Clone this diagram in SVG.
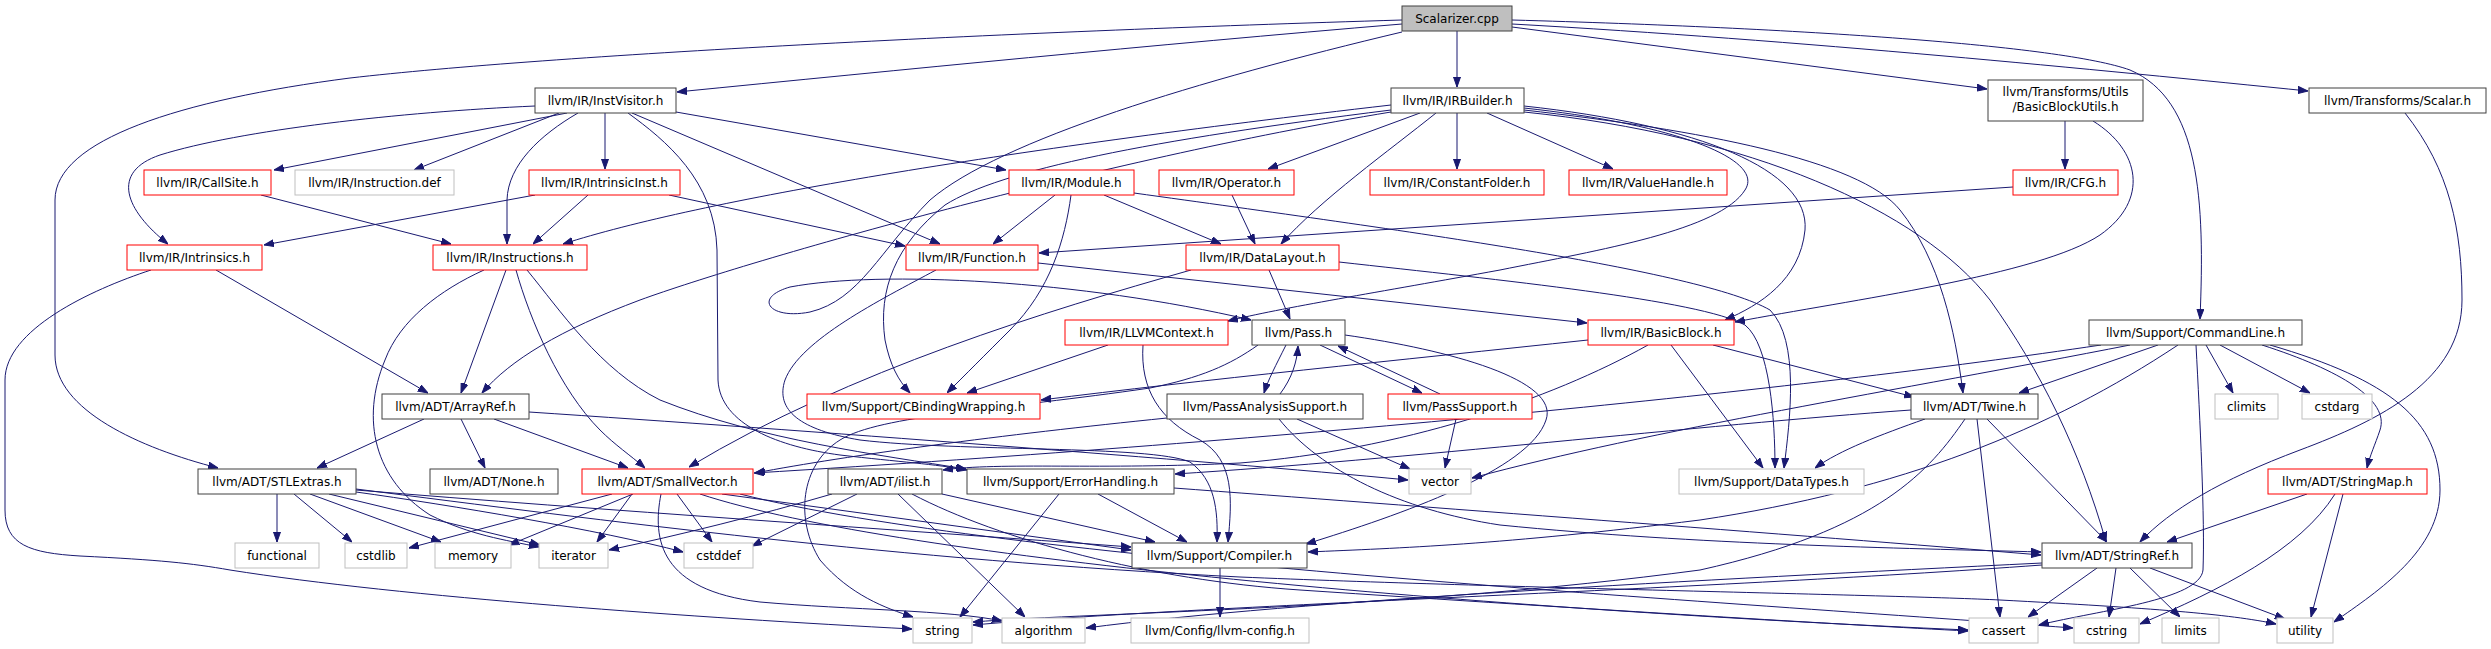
<svg xmlns="http://www.w3.org/2000/svg" width="2491" height="649" viewBox="0 0 2491 649">
<defs>
<style>
.e{fill:none;stroke:#191970;stroke-width:1;marker-end:url(#a)}
rect{fill:#fff;stroke:#404040;stroke-width:1}
.r rect{stroke:#ff0000}
.g rect{stroke:#bfbfbf}
.root rect{fill:#bfbfbf}
text{font-family:"DejaVu Sans","Liberation Sans",sans-serif;font-size:12px;text-anchor:middle;fill:#000}
</style>
<marker id="a" markerUnits="userSpaceOnUse" markerWidth="10" markerHeight="8" refX="10" refY="4" orient="auto"><path d="M0,0.5 L10,4 L0,7.5 z" fill="#191970" stroke="#191970"/></marker>
</defs>
<rect x="0" y="0" width="2491" height="649" style="fill:#fff;stroke:none"/>
<g id="edges">
<path class="e" d="M1402,24 C1150,45 900,70 677,92"/>
<path class="e" d="M1457,31 L1457,87"/>
<path class="e" d="M1402,20 C1000,32 550,55 350,78 C180,100 55,140 55,200 L55,355 C55,410 140,448 218,468"/>
<path class="e" d="M1402,32 C1200,80 1000,140 930,200 C880,250 860,300 810,312 C770,320 752,298 790,287 C880,270 1080,280 1251,320"/>
<path class="e" d="M1512,27 L1987,89"/>
<path class="e" d="M1512,24 C1800,40 2100,70 2308,91"/>
<path class="e" d="M1512,20 C1800,28 2060,45 2130,70 C2200,100 2205,200 2200,319"/>
<path class="e" d="M567,113 L274,170"/>
<path class="e" d="M559,113 L414,170"/>
<path class="e" d="M605,113 L605,169"/>
<path class="e" d="M535,106 C400,112 240,130 160,155 C110,172 125,210 168,244"/>
<path class="e" d="M578,113 C540,135 508,165 507,200 L507,244"/>
<path class="e" d="M676,112 L1006,170"/>
<path class="e" d="M632,113 L940,244"/>
<path class="e" d="M628,113 C665,140 715,180 717,250 L718,380 C720,425 780,447 840,455 C900,462 935,464 967,470"/>
<path class="e" d="M535,195 L264,245"/>
<path class="e" d="M588,195 L533,244"/>
<path class="e" d="M669,195 L905,246"/>
<path class="e" d="M261,195 L451,244"/>
<path class="e" d="M1391,105 C1000,150 700,200 563,244"/>
<path class="e" d="M216,270 L428,393"/>
<path class="e" d="M151,270 C90,290 5,330 5,380 L5,510 C5,545 30,553 80,556 C160,560 190,563 230,570 C400,597 700,618 912,629"/>
<path class="e" d="M484,270 C440,290 400,320 385,360 C360,420 375,480 430,515 C470,535 505,540 539,547"/>
<path class="e" d="M506,270 L461,393"/>
<path class="e" d="M516,270 C530,320 560,390 600,430 C615,445 630,455 645,468"/>
<path class="e" d="M527,270 C560,310 600,370 660,400 C760,440 880,455 966,469"/>
<path class="e" d="M1391,112 C1100,160 750,260 640,300 C560,330 510,360 482,393"/>
<path class="e" d="M1391,110 C1150,140 1000,170 945,205 C895,245 878,290 885,340 C890,365 898,380 910,393"/>
<path class="e" d="M1420,113 L1268,169"/>
<path class="e" d="M1436,113 C1390,150 1320,200 1281,244"/>
<path class="e" d="M1457,113 L1457,169"/>
<path class="e" d="M1487,113 L1613,169"/>
<path class="e" d="M1524,106 C1700,125 1810,170 1805,230 C1800,280 1760,305 1725,320"/>
<path class="e" d="M1524,108 C1680,125 1765,160 1745,190 C1720,230 1600,250 1500,270 C1380,292 1280,308 1228,321"/>
<path class="e" d="M1524,110 C1700,130 1860,160 1900,210 C1940,260 1955,330 1963,393"/>
<path class="e" d="M1524,112 C1750,135 1920,210 1990,300 C2040,370 2080,450 2106,542"/>
<path class="e" d="M1055,195 L993,244"/>
<path class="e" d="M1104,195 L1221,244"/>
<path class="e" d="M1071,195 C1065,240 1050,290 1010,330 C985,355 965,375 947,393"/>
<path class="e" d="M1134,193 C1400,230 1700,270 1770,310 C1800,340 1790,420 1784,468"/>
<path class="e" d="M1232,195 L1255,244"/>
<path class="e" d="M2013,187 L1039,253"/>
<path class="e" d="M2065,121 L2065,169"/>
<path class="e" d="M2093,121 C2140,150 2150,200 2100,235 C2040,275 1850,300 1735,322"/>
<path class="e" d="M2405,113 C2450,170 2462,230 2462,300 C2462,380 2380,420 2300,450 C2220,480 2170,510 2140,542"/>
<path class="e" d="M1038,263 L1587,323"/>
<path class="e" d="M936,270 C880,300 800,340 785,380 C775,410 800,430 860,440 C960,452 1150,445 1190,462 C1215,480 1218,510 1217,542"/>
<path class="e" d="M1191,270 C1050,310 850,370 689,467"/>
<path class="e" d="M1269,270 L1290,319"/>
<path class="e" d="M1339,262 C1500,280 1700,300 1745,325 C1770,345 1775,420 1775,468"/>
<path class="e" d="M1108,345 L967,393"/>
<path class="e" d="M1143,345 C1140,390 1160,420 1200,440 C1235,460 1232,500 1228,542"/>
<path class="e" d="M1286,345 C1276,365 1268,380 1264,393"/>
<path class="e" d="M1280,394 C1292,378 1297,362 1298,346"/>
<path class="e" d="M1320,345 L1422,393"/>
<path class="e" d="M1440,394 L1338,346"/>
<path class="e" d="M1345,335 C1450,350 1560,380 1546,420 C1530,470 1400,515 1306,544"/>
<path class="e" d="M1258,345 C1230,365 1200,378 1150,388 C1000,410 880,415 840,440 C800,465 795,520 820,560 C850,595 885,608 913,617"/>
<path class="e" d="M1167,418 C1000,435 850,455 755,473"/>
<path class="e" d="M1279,419 C1320,470 1400,510 1500,525 C1700,545 1900,548 2041,552"/>
<path class="e" d="M1297,419 L1410,469"/>
<path class="e" d="M1456,419 L1445,468"/>
<path class="e" d="M424,419 L317,468"/>
<path class="e" d="M461,419 L485,468"/>
<path class="e" d="M494,419 L628,468"/>
<path class="e" d="M529,412 C800,430 1200,460 1408,480"/>
<path class="e" d="M277,494 L277,542"/>
<path class="e" d="M294,494 L352,542"/>
<path class="e" d="M310,494 L441,542"/>
<path class="e" d="M329,494 L540,545"/>
<path class="e" d="M356,492 C450,505 600,530 683,552"/>
<path class="e" d="M356,490 C600,510 900,530 1131,547"/>
<path class="e" d="M356,489 C600,520 900,560 1240,577 C1500,588 1900,595 2000,600 C2150,608 2230,614 2276,624"/>
<path class="e" d="M612,494 L409,548"/>
<path class="e" d="M633,494 L509,545"/>
<path class="e" d="M632,494 L597,542"/>
<path class="e" d="M677,494 L712,542"/>
<path class="e" d="M722,494 L1131,550"/>
<path class="e" d="M661,494 C652,540 660,590 760,602 C850,610 950,610 1002,621"/>
<path class="e" d="M700,494 C900,560 1500,610 1968,630"/>
<path class="e" d="M740,494 C1000,560 1700,600 2073,628"/>
<path class="e" d="M857,494 L752,546"/>
<path class="e" d="M832,494 C760,515 680,535 609,550"/>
<path class="e" d="M898,494 L1025,617"/>
<path class="e" d="M942,494 L1155,542"/>
<path class="e" d="M912,494 C1000,540 1150,580 1300,590 C1600,610 1850,625 1968,631"/>
<path class="e" d="M1059,494 L960,617"/>
<path class="e" d="M1098,494 L1187,542"/>
<path class="e" d="M1174,488 C1400,505 1800,535 2041,555"/>
<path class="e" d="M1987,419 L2107,542"/>
<path class="e" d="M1925,419 C1880,435 1840,450 1815,468"/>
<path class="e" d="M1911,410 C1700,425 1400,460 1175,474"/>
<path class="e" d="M1977,419 L2000,617"/>
<path class="e" d="M1965,419 C1930,470 1880,530 1700,570 C1400,610 1100,612 973,622"/>
<path class="e" d="M2206,345 L2233,393"/>
<path class="e" d="M2220,345 L2310,393"/>
<path class="e" d="M2158,345 L2019,393"/>
<path class="e" d="M2262,345 C2340,370 2390,400 2380,430 C2375,445 2370,455 2367,468"/>
<path class="e" d="M2270,345 C2390,380 2440,420 2440,490 C2440,550 2380,590 2334,622"/>
<path class="e" d="M2196,345 C2200,420 2205,520 2203,570 C2200,600 2100,610 2039,625"/>
<path class="e" d="M2101,345 C1800,390 1300,440 754,473"/>
<path class="e" d="M2130,345 C1900,390 1650,430 1472,478"/>
<path class="e" d="M2178,345 C2050,430 1900,490 1700,520 C1500,545 1400,548 1308,552"/>
<path class="e" d="M2307,494 L2167,542"/>
<path class="e" d="M2335,494 C2300,550 2220,590 2140,624"/>
<path class="e" d="M2343,494 L2311,617"/>
<path class="e" d="M2097,568 L2028,617"/>
<path class="e" d="M2116,568 L2109,617"/>
<path class="e" d="M2130,568 L2180,617"/>
<path class="e" d="M2150,568 L2285,619"/>
<path class="e" d="M2042,563 C1700,580 1300,600 1086,628"/>
<path class="e" d="M2042,565 C1700,590 1200,605 973,625"/>
<path class="e" d="M1220,568 L1220,617"/>
<path class="e" d="M1588,340 C1400,360 1200,380 1041,400"/>
<path class="e" d="M1671,345 L1763,468"/>
<path class="e" d="M1713,345 L1914,397"/>
<path class="e" d="M1648,345 C1550,400 1400,450 1240,463 C1100,470 1000,462 943,470"/>
</g>
<g id="n_scalarizer" class="root"><rect x="1402" y="6" width="110" height="25"/><text x="1457" y="23">Scalarizer.cpp</text></g>
<g id="n_instvisitor"><rect x="535" y="88" width="141" height="25"/><text x="605.5" y="105">llvm/IR/InstVisitor.h</text></g>
<g id="n_irbuilder"><rect x="1391" y="88" width="133" height="25"/><text x="1457.5" y="105">llvm/IR/IRBuilder.h</text></g>
<g id="n_bbutils"><rect x="1988" y="80" width="155" height="41"/><text x="2065.5" y="96">llvm/Transforms/Utils</text><text x="2065.5" y="111">/BasicBlockUtils.h</text></g>
<g id="n_scalar"><rect x="2309" y="88" width="177" height="25"/><text x="2397.5" y="105">llvm/Transforms/Scalar.h</text></g>
<g id="n_callsite" class="r"><rect x="144" y="170" width="127" height="25"/><text x="207.5" y="187">llvm/IR/CallSite.h</text></g>
<g id="n_instdef" class="g"><rect x="295" y="170" width="159" height="25"/><text x="374.5" y="187">llvm/IR/Instruction.def</text></g>
<g id="n_intrinsicinst" class="r"><rect x="529" y="170" width="151" height="25"/><text x="604.5" y="187">llvm/IR/IntrinsicInst.h</text></g>
<g id="n_module" class="r"><rect x="1009" y="170" width="125" height="25"/><text x="1071.5" y="187">llvm/IR/Module.h</text></g>
<g id="n_operator" class="r"><rect x="1159" y="170" width="135" height="25"/><text x="1226.5" y="187">llvm/IR/Operator.h</text></g>
<g id="n_constfolder" class="r"><rect x="1370" y="170" width="174" height="25"/><text x="1457" y="187">llvm/IR/ConstantFolder.h</text></g>
<g id="n_valuehandle" class="r"><rect x="1569" y="170" width="158" height="25"/><text x="1648" y="187">llvm/IR/ValueHandle.h</text></g>
<g id="n_cfg" class="r"><rect x="2013" y="170" width="105" height="25"/><text x="2065.5" y="187">llvm/IR/CFG.h</text></g>
<g id="n_intrinsics" class="r"><rect x="127" y="245" width="135" height="25"/><text x="194.5" y="262">llvm/IR/Intrinsics.h</text></g>
<g id="n_instructions" class="r"><rect x="433" y="245" width="154" height="25"/><text x="510" y="262">llvm/IR/Instructions.h</text></g>
<g id="n_function" class="r"><rect x="906" y="245" width="132" height="25"/><text x="972" y="262">llvm/IR/Function.h</text></g>
<g id="n_datalayout" class="r"><rect x="1186" y="245" width="153" height="25"/><text x="1262.5" y="262">llvm/IR/DataLayout.h</text></g>
<g id="n_llvmcontext" class="r"><rect x="1065" y="320" width="163" height="25"/><text x="1146.5" y="337">llvm/IR/LLVMContext.h</text></g>
<g id="n_pass"><rect x="1252" y="320" width="93" height="25"/><text x="1298.5" y="337">llvm/Pass.h</text></g>
<g id="n_basicblock" class="r"><rect x="1588" y="320" width="146" height="25"/><text x="1661" y="337">llvm/IR/BasicBlock.h</text></g>
<g id="n_commandline"><rect x="2089" y="320" width="213" height="25"/><text x="2195.5" y="337">llvm/Support/CommandLine.h</text></g>
<g id="n_arrayref"><rect x="382" y="394" width="147" height="25"/><text x="455.5" y="411">llvm/ADT/ArrayRef.h</text></g>
<g id="n_cbinding" class="r"><rect x="807" y="394" width="233" height="25"/><text x="923.5" y="411">llvm/Support/CBindingWrapping.h</text></g>
<g id="n_passanalysis"><rect x="1167" y="394" width="196" height="25"/><text x="1265" y="411">llvm/PassAnalysisSupport.h</text></g>
<g id="n_passsupport" class="r"><rect x="1388" y="394" width="144" height="25"/><text x="1460" y="411">llvm/PassSupport.h</text></g>
<g id="n_twine"><rect x="1911" y="394" width="127" height="25"/><text x="1974.5" y="411">llvm/ADT/Twine.h</text></g>
<g id="n_climits" class="g"><rect x="2215" y="394" width="63" height="25"/><text x="2246.5" y="411">climits</text></g>
<g id="n_cstdarg" class="g"><rect x="2302" y="394" width="70" height="25"/><text x="2337" y="411">cstdarg</text></g>
<g id="n_stlextras"><rect x="198" y="469" width="158" height="25"/><text x="277" y="486">llvm/ADT/STLExtras.h</text></g>
<g id="n_none"><rect x="430" y="469" width="128" height="25"/><text x="494" y="486">llvm/ADT/None.h</text></g>
<g id="n_smallvector" class="r"><rect x="582" y="469" width="171" height="25"/><text x="667.5" y="486">llvm/ADT/SmallVector.h</text></g>
<g id="n_ilist"><rect x="828" y="469" width="114" height="25"/><text x="885" y="486">llvm/ADT/ilist.h</text></g>
<g id="n_errorhandling"><rect x="967" y="469" width="207" height="25"/><text x="1070.5" y="486">llvm/Support/ErrorHandling.h</text></g>
<g id="n_vector" class="g"><rect x="1409" y="469" width="62" height="25"/><text x="1440" y="486">vector</text></g>
<g id="n_datatypes" class="g"><rect x="1679" y="469" width="185" height="25"/><text x="1771.5" y="486">llvm/Support/DataTypes.h</text></g>
<g id="n_stringmap" class="r"><rect x="2268" y="469" width="159" height="25"/><text x="2347.5" y="486">llvm/ADT/StringMap.h</text></g>
<g id="n_functional" class="g"><rect x="235" y="543" width="84" height="25"/><text x="277" y="560">functional</text></g>
<g id="n_cstdlib" class="g"><rect x="345" y="543" width="62" height="25"/><text x="376" y="560">cstdlib</text></g>
<g id="n_memory" class="g"><rect x="435" y="543" width="76" height="25"/><text x="473" y="560">memory</text></g>
<g id="n_iterator" class="g"><rect x="539" y="543" width="69" height="25"/><text x="573.5" y="560">iterator</text></g>
<g id="n_cstddef" class="g"><rect x="684" y="543" width="69" height="25"/><text x="718.5" y="560">cstddef</text></g>
<g id="n_compiler"><rect x="1132" y="543" width="175" height="25"/><text x="1219.5" y="560">llvm/Support/Compiler.h</text></g>
<g id="n_stringref"><rect x="2042" y="543" width="150" height="25"/><text x="2117" y="560">llvm/ADT/StringRef.h</text></g>
<g id="n_string" class="g"><rect x="913" y="618" width="59" height="25"/><text x="942.5" y="635">string</text></g>
<g id="n_algorithm" class="g"><rect x="1002" y="618" width="83" height="25"/><text x="1043.5" y="635">algorithm</text></g>
<g id="n_llvmconfig" class="g"><rect x="1131" y="618" width="178" height="25"/><text x="1220" y="635">llvm/Config/llvm-config.h</text></g>
<g id="n_cassert" class="g"><rect x="1969" y="618" width="69" height="25"/><text x="2003.5" y="635">cassert</text></g>
<g id="n_cstring" class="g"><rect x="2074" y="618" width="65" height="25"/><text x="2106.5" y="635">cstring</text></g>
<g id="n_limits" class="g"><rect x="2162" y="618" width="57" height="25"/><text x="2190.5" y="635">limits</text></g>
<g id="n_utility" class="g"><rect x="2277" y="618" width="56" height="25"/><text x="2305" y="635">utility</text></g>
</svg>
